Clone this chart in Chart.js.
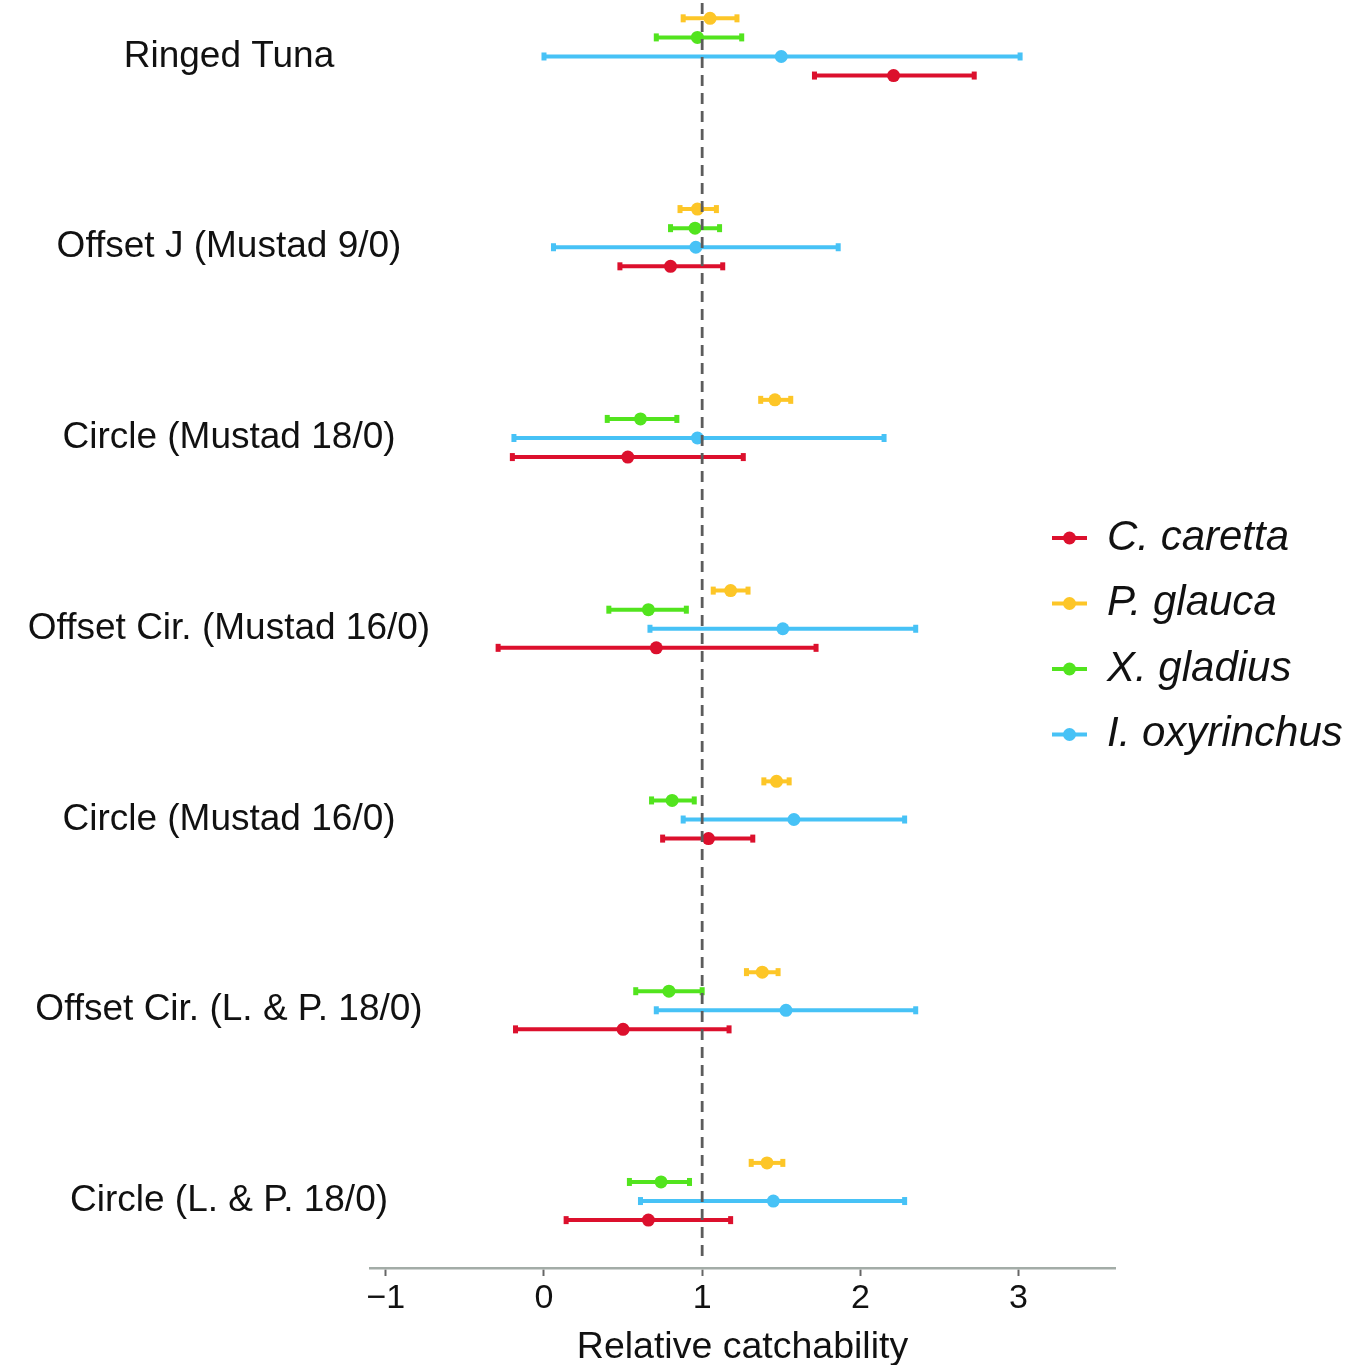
<!DOCTYPE html>
<html><head><meta charset="utf-8">
<script src="https://cdn.jsdelivr.net/npm/chart.js@4.4.1/dist/chart.umd.min.js"></script>
<style>html,body{margin:0;padding:0;background:#fff}#wrap{width:1360px;height:1365px}</style>
</head><body><div id="wrap"><canvas id="c" width="1360" height="1365"></canvas></div>
<script>
const categories = ["Ringed Tuna","Offset J (Mustad 9/0)","Circle (Mustad 18/0)","Offset Cir. (Mustad 16/0)","Circle (Mustad 16/0)","Offset Cir. (L. & P. 18/0)","Circle (L. & P. 18/0)"];
const speciesNames = ["C. caretta","P. glauca","X. gladius","I. oxyrinchus"];
const carettaMean = [2.21,0.80,0.53,0.71,1.04,0.50,0.66];
const carettaLow  = [1.71,0.48,-0.20,-0.29,0.75,-0.18,0.14];
const carettaHigh = [2.72,1.13,1.26,1.72,1.32,1.17,1.18];
const glaucaMean = [1.05,0.97,1.46,1.18,1.47,1.38,1.41];
const glaucaLow  = [0.88,0.86,1.37,1.07,1.39,1.28,1.31];
const glaucaHigh = [1.22,1.09,1.56,1.29,1.55,1.48,1.51];
const gladiusMean = [0.97,0.955,0.61,0.66,0.81,0.79,0.74];
const gladiusLow  = [0.71,0.80,0.40,0.41,0.68,0.58,0.54];
const gladiusHigh = [1.25,1.11,0.84,0.90,0.95,1.00,0.92];
const oxyMean = [1.50,0.96,0.97,1.51,1.58,1.53,1.45];
const oxyLow  = [0.00,0.06,-0.19,0.67,0.88,0.71,0.61];
const oxyHigh = [3.01,1.86,2.15,2.35,2.28,2.35,2.28];
const xTicks = [-1,0,1,2,3];
const referenceValue = 1;

const FONT = "'Liberation Sans', Arial, Helvetica, sans-serif";
const colors = ['#dc102d','#fdc627','#52e41e','#47c2f6'];
const dodge = [0.1,-0.2,-0.1,0];
const series = [
  [carettaMean,carettaLow,carettaHigh],
  [glaucaMean,glaucaLow,glaucaHigh],
  [gladiusMean,gladiusLow,gladiusHigh],
  [oxyMean,oxyLow,oxyHigh]
];
const datasets = series.map((s,k)=>({
  label: speciesNames[k],
  data: categories.map((c,i)=>({x:s[0][i], y:i+dodge[k], xMin:s[1][i], xMax:s[2][i]})),
  backgroundColor: colors[k],
  borderColor: colors[k],
  pointRadius: 6.5,
  pointHoverRadius: 6.5,
  pointBorderWidth: 0,
  showLine: false
}));

const errorBars = {
  id:'errorBars',
  beforeDatasetsDraw(chart){
    const ctx = chart.ctx, xs = chart.scales.x;
    ctx.save();
    chart.data.datasets.forEach((ds,k)=>{
      const meta = chart.getDatasetMeta(k);
      meta.data.forEach((pt,j)=>{
        const d = ds.data[j];
        const x1 = xs.getPixelForValue(d.xMin), x2 = xs.getPixelForValue(d.xMax);
        ctx.strokeStyle = ds.borderColor; ctx.fillStyle = ds.borderColor;
        ctx.lineWidth = 4; ctx.lineCap = 'butt';
        ctx.beginPath(); ctx.moveTo(x1,pt.y); ctx.lineTo(x2,pt.y); ctx.stroke();
        ctx.fillRect(x1-2.5, pt.y-4, 5, 8);
        ctx.fillRect(x2-2.5, pt.y-4, 5, 8);
      });
    });
    ctx.restore();
  }
};
const refLine = {
  id:'refLine',
  afterDatasetsDraw(chart){
    const ctx = chart.ctx, x = chart.scales.x.getPixelForValue(referenceValue), a = chart.chartArea;
    ctx.save();
    ctx.strokeStyle = '#5c5c5c'; ctx.lineWidth = 2.8; ctx.setLineDash([11,7]);
    ctx.beginPath(); ctx.moveTo(x, 3); ctx.lineTo(x, a.bottom-12); ctx.stroke();
    ctx.restore();
  }
};
const catLabels = {
  id:'catLabels',
  afterDraw(chart){
    const ctx = chart.ctx, ys = chart.scales.y;
    ctx.save();
    ctx.fillStyle = '#111'; ctx.font = '37px ' + FONT; ctx.textAlign = 'center'; ctx.textBaseline = 'middle';
    categories.forEach((c,i)=>{ ctx.fillText(c, 229, ys.getPixelForValue(i)); });
    ctx.restore();
  }
};
const sideLegend = {
  id:'sideLegend',
  afterDraw(chart){
    const ctx = chart.ctx;
    ctx.save();
    chart.data.datasets.forEach((ds,k)=>{
      const y = 538 + k*65.5;
      ctx.strokeStyle = ds.borderColor; ctx.fillStyle = ds.borderColor; ctx.lineWidth = 4;
      ctx.beginPath(); ctx.moveTo(1052,y); ctx.lineTo(1087,y); ctx.stroke();
      ctx.beginPath(); ctx.arc(1069.5,y,6.5,0,Math.PI*2); ctx.fill();
      ctx.fillStyle = '#111'; ctx.font = 'italic 42px ' + FONT; ctx.textBaseline = 'middle'; ctx.textAlign = 'left';
      ctx.fillText(ds.label, 1107, y);
    });
    ctx.restore();
  }
};

new Chart(document.getElementById('c'), {
  type:'scatter',
  data:{datasets},
  plugins:[errorBars, refLine, catLabels, sideLegend],
  options:{
    responsive:false, animation:false, devicePixelRatio:1,
    layout:{padding:{left:0,right:245,top:0,bottom:0}},
    plugins:{legend:{display:false}, tooltip:{enabled:false}},
    scales:{
      x:{
        type:'linear', min:-1.10, max:3.61,
        afterFit(s){ s.height = 97; },
        afterBuildTicks(s){ s.ticks = xTicks.map(v=>({value:v})); },
        grid:{drawOnChartArea:false, drawTicks:true, tickLength:8, tickWidth:2, tickColor:'#666'},
        border:{display:true, color:'#a3aca7', width:2.5},
        ticks:{padding:2, color:'#111', font:{family:FONT,size:34}, maxRotation:0,
          callback:v=> v<0 ? '\u2212'+Math.abs(v) : String(v)},
        title:{display:true, text:'Relative catchability', color:'#111', font:{family:FONT,size:37.5}, padding:{top:0,bottom:-5}}
      },
      y:{
        type:'linear', reverse:true, min:-0.262, max:6.351,
        afterFit(s){ s.width = 370; },
        afterBuildTicks(s){ s.ticks = categories.map((c,i)=>({value:i})); },
        grid:{display:false, drawTicks:false},
        border:{display:false},
        ticks:{display:false}
      }
    }
  }
});
</script></body></html>
